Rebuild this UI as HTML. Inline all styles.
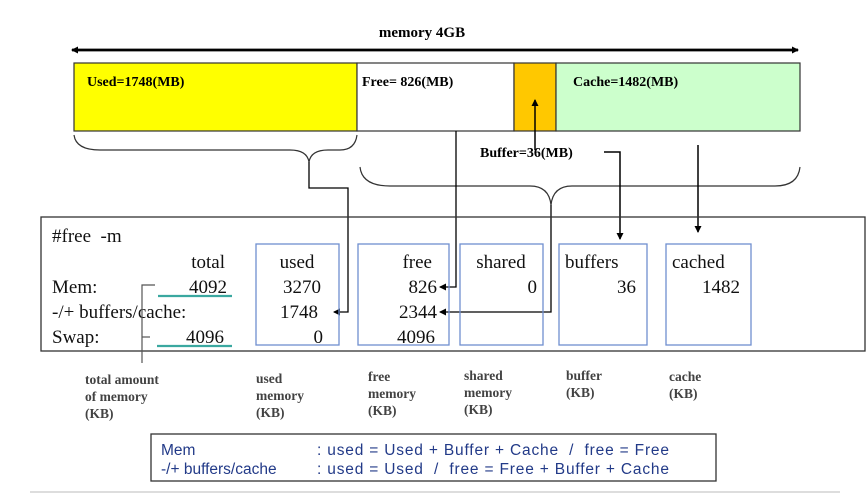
<!DOCTYPE html>
<html><head><meta charset="utf-8"><style>
html,body{margin:0;padding:0;background:#fff;}
svg{display:block}
text{white-space:pre;}
.s{font-family:"Liberation Serif",serif;}
</style></head><body>
<svg width="867" height="494" viewBox="0 0 867 494" xmlns="http://www.w3.org/2000/svg" xml:space="preserve">
<defs>
<marker id="a" markerWidth="7" markerHeight="7" refX="6" refY="3.5" orient="auto" markerUnits="userSpaceOnUse"><path d="M0,0 L7,3.5 L0,7 z" fill="#000"/></marker>
</defs>
<rect width="867" height="494" fill="#fff"/>
<text x="422" y="37" class="s" font-size="15" font-weight="bold" text-anchor="middle">memory 4GB</text>
<line x1="72" y1="50" x2="798" y2="50" stroke="#000" stroke-width="2.5" marker-end="url(#a)"/>
<line x1="798" y1="50" x2="72" y2="50" stroke="#000" stroke-width="2.5" marker-end="url(#a)"/>
<rect x="74" y="63" width="283" height="68" fill="#ffff00" stroke="#333" stroke-width="1.2"/>
<rect x="357" y="63" width="157" height="68" fill="#fff" stroke="#333" stroke-width="1.2"/>
<rect x="514" y="63" width="42" height="68" fill="#ffc800" stroke="#333" stroke-width="1.2"/>
<rect x="556" y="63" width="244" height="68" fill="#ccffcc" stroke="#333" stroke-width="1.2"/>
<g class="s" font-size="14" font-weight="bold">
<text x="87" y="86">Used=1748(MB)</text>
<text x="362" y="86">Free= 826(MB)</text>
<text x="573" y="86">Cache=1482(MB)</text>
<text x="480" y="157">Buffer=36(MB)</text>
</g>
<path d="M74,135 Q76,150 100,150 L290,150 Q307,150 309,162 Q311,150 328,150 L340,150 Q355,150 357,135" fill="none" stroke="#333" stroke-width="1.2"/>
<path d="M360,167 Q362,186 390,186 L530,186 Q549,186 551,205 Q553,186 572,186 L775,186 Q798,186 800,167" fill="none" stroke="#333" stroke-width="1.2"/>
<polyline points="309,162 309,188 348,188 348,312 334,312" fill="none" stroke="#000" stroke-width="1.3" marker-end="url(#a)"/>
<polyline points="551,205 551,312 440,312" fill="none" stroke="#000" stroke-width="1.3" marker-end="url(#a)"/>
<polyline points="456,131 456,287 440,287" fill="none" stroke="#000" stroke-width="1.3" marker-end="url(#a)"/>
<line x1="535" y1="150" x2="535" y2="100" stroke="#000" stroke-width="1.5" marker-end="url(#a)"/>
<polyline points="604,152 620,152 620,239" fill="none" stroke="#000" stroke-width="1.5" marker-end="url(#a)"/>
<line x1="698" y1="145" x2="698" y2="232" stroke="#000" stroke-width="1.5" marker-end="url(#a)"/>
<rect x="41" y="217" width="824" height="134" fill="none" stroke="#333" stroke-width="1.3"/>
<g fill="none" stroke="#6f8fd0" stroke-width="1.3">
<rect x="256" y="244" width="83" height="101"/>
<rect x="358" y="244" width="91" height="101"/>
<rect x="460" y="244" width="83" height="101"/>
<rect x="559" y="244" width="88" height="101"/>
<rect x="666" y="244" width="85" height="101"/>
</g>
<g class="s" font-size="19" fill="#111">
<text x="52" y="242">#free  -m</text>
<text x="225" y="268" text-anchor="end">total</text>
<text x="52" y="293">Mem:</text>
<text x="52" y="318">-/+ buffers/cache:</text>
<text x="52" y="343">Swap:</text>
<text x="227" y="293" text-anchor="end">4092</text>
<text x="224" y="343" text-anchor="end">4096</text>
<text x="297" y="268" text-anchor="middle">used</text>
<text x="321" y="293" text-anchor="end">3270</text>
<text x="318" y="318" text-anchor="end">1748</text>
<text x="323" y="343" text-anchor="end">0</text>
<text x="432" y="268" text-anchor="end">free</text>
<text x="437" y="293" text-anchor="end">826</text>
<text x="437" y="318" text-anchor="end">2344</text>
<text x="435" y="343" text-anchor="end">4096</text>
<text x="501" y="268" text-anchor="middle">shared</text>
<text x="537" y="293" text-anchor="end">0</text>
<text x="565" y="268">buffers</text>
<text x="636" y="293" text-anchor="end">36</text>
<text x="672" y="268">cached</text>
<text x="740" y="293" text-anchor="end">1482</text>
</g>
<line x1="158" y1="296" x2="232" y2="296" stroke="#3aa8a0" stroke-width="2.2"/>
<line x1="157" y1="346" x2="232" y2="346" stroke="#3aa8a0" stroke-width="2.2"/>
<polyline points="155,285 142,285 142,363" fill="none" stroke="#555" stroke-width="1.2"/>
<line x1="142" y1="337" x2="150" y2="337" stroke="#555" stroke-width="1.2"/>
<g class="s" font-size="13.5" fill="#222" font-weight="bold" opacity="0.85">
<text x="85" y="384">total amount</text><text x="85" y="401">of memory</text><text x="85" y="418">(KB)</text>
<text x="256" y="383">used</text><text x="256" y="400">memory</text><text x="256" y="417">(KB)</text>
<text x="368" y="381">free</text><text x="368" y="398">memory</text><text x="368" y="415">(KB)</text>
<text x="464" y="380">shared</text><text x="464" y="397">memory</text><text x="464" y="414">(KB)</text>
<text x="566" y="380">buffer</text><text x="566" y="397">(KB)</text>
<text x="669" y="381">cache</text><text x="669" y="398">(KB)</text>
</g>
<rect x="151" y="434" width="565" height="47" fill="none" stroke="#333" stroke-width="1.3"/>
<g font-family="Liberation Sans,sans-serif" font-size="15.5" fill="#223a88">
<text x="161" y="455">Mem</text>
<text x="161" y="474">-/+ buffers/cache</text>
<text x="317" y="455" textLength="352" lengthAdjust="spacing">: used = Used + Buffer + Cache  /  free = Free</text>
<text x="317" y="474" textLength="352" lengthAdjust="spacing">: used = Used  /  free = Free + Buffer + Cache</text>
</g>
<line x1="30" y1="492" x2="840" y2="492" stroke="#ddd" stroke-width="2"/>
</svg>
</body></html>
